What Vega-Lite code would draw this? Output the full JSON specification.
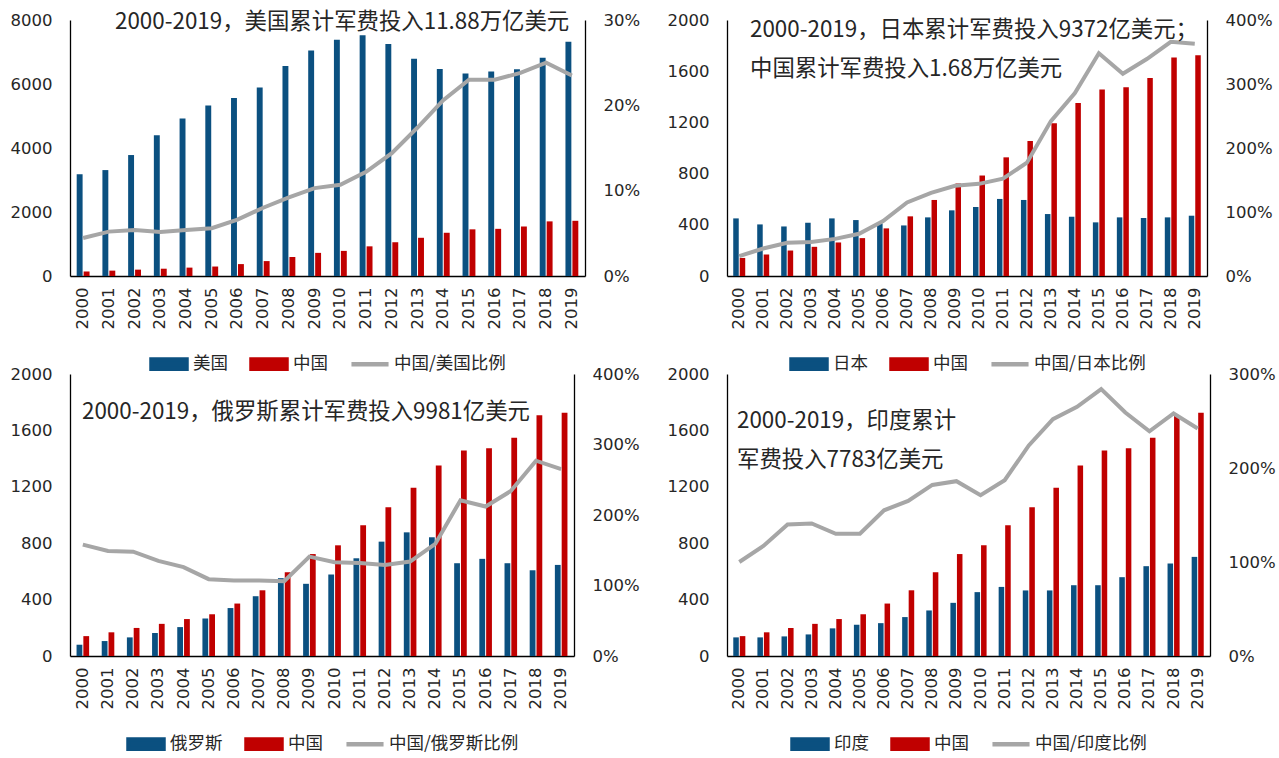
{
  "$schema": "https://vega.github.io/schema/vega-lite/v6.json",
  "background": "white",
  "padding": {"left": 10, "top": 10, "right": 5, "bottom": 5},
  "config": {
    "font": "Noto Sans CJK SC",
    "view": {"stroke": null},
    "axis": {"grid": false, "ticks": false, "domainColor": "#000", "labelColor": "#262626", "labelFontSize": 16.5, "labelFont": "DejaVu Sans"},
    "axisX": {"labelAngle": -90, "labelPadding": 11, "domainWidth": 1.6},
    "axisY": {"labelPadding": 18, "domainWidth": 1.3},
    "legend": {
      "orient": "bottom", "direction": "horizontal", "offset": 15,
      "labelFontSize": 17.5, "labelColor": "#262626", "symbolSize": 1225, "labelOffset": 4, "columnPadding": 14,
      "layout": {"bottom": {"anchor": "middle"}}
    },
    "title": {"fontSize": 22.4, "fontWeight": "normal", "color": "#262626", "anchor": "start", "lineHeight": 38.5, "frame": "group"}
  },
  "datasets": {
    "us": [
      {"year": "2000", "美国": 3180, "中国": 141, "比例": 0.0445},
      {"year": "2001", "美国": 3310, "中国": 168, "比例": 0.052},
      {"year": "2002", "美国": 3780, "中国": 199, "比例": 0.054},
      {"year": "2003", "美国": 4400, "中国": 228, "比例": 0.0515},
      {"year": "2004", "美国": 4920, "中国": 262, "比例": 0.054},
      {"year": "2005", "美国": 5330, "中国": 296, "比例": 0.056},
      {"year": "2006", "美国": 5560, "中国": 372, "比例": 0.066},
      {"year": "2007", "美国": 5890, "中国": 466, "比例": 0.080},
      {"year": "2008", "美国": 6560, "中国": 594, "比例": 0.092},
      {"year": "2009", "美国": 7050, "中国": 723, "比例": 0.103},
      {"year": "2010", "美国": 7380, "中国": 785, "比例": 0.107},
      {"year": "2011", "美国": 7520, "中国": 927, "比例": 0.122},
      {"year": "2012", "美国": 7250, "中国": 1055, "比例": 0.144},
      {"year": "2013", "美国": 6790, "中国": 1194, "比例": 0.174},
      {"year": "2014", "美国": 6470, "中国": 1351, "比例": 0.206},
      {"year": "2015", "美国": 6330, "中国": 1458, "比例": 0.230},
      {"year": "2016", "美国": 6390, "中国": 1474, "比例": 0.230},
      {"year": "2017", "美国": 6460, "中国": 1547, "比例": 0.238},
      {"year": "2018", "美国": 6820, "中国": 1707, "比例": 0.250},
      {"year": "2019", "美国": 7320, "中国": 1725, "比例": 0.235}
    ],
    "jp": [
      {"year": "2000", "日本": 450, "中国": 141, "比例": 0.31},
      {"year": "2001", "日本": 403, "中国": 168, "比例": 0.43},
      {"year": "2002", "日本": 387, "中国": 199, "比例": 0.52},
      {"year": "2003", "日本": 416, "中国": 228, "比例": 0.53},
      {"year": "2004", "日本": 450, "中国": 262, "比例": 0.58},
      {"year": "2005", "日本": 437, "中国": 296, "比例": 0.66},
      {"year": "2006", "日本": 411, "中国": 372, "比例": 0.86},
      {"year": "2007", "日本": 395, "中国": 466, "比例": 1.15},
      {"year": "2008", "日本": 458, "中国": 594, "比例": 1.30},
      {"year": "2009", "日本": 513, "中国": 723, "比例": 1.41},
      {"year": "2010", "日本": 539, "中国": 785, "比例": 1.44},
      {"year": "2011", "日本": 602, "中国": 927, "比例": 1.52},
      {"year": "2012", "日本": 594, "中国": 1055, "比例": 1.77},
      {"year": "2013", "日本": 484, "中国": 1194, "比例": 2.42},
      {"year": "2014", "日本": 463, "中国": 1351, "比例": 2.86},
      {"year": "2015", "日本": 419, "中国": 1458, "比例": 3.48},
      {"year": "2016", "日本": 458, "中国": 1474, "比例": 3.16},
      {"year": "2017", "日本": 453, "中国": 1547, "比例": 3.39},
      {"year": "2018", "日本": 458, "中国": 1707, "比例": 3.66},
      {"year": "2019", "日本": 471, "中国": 1725, "比例": 3.63}
    ],
    "ru": [
      {"year": "2000", "俄罗斯": 80, "中国": 141, "比例": 1.58},
      {"year": "2001", "俄罗斯": 106, "中国": 168, "比例": 1.49},
      {"year": "2002", "俄罗斯": 132, "中国": 199, "比例": 1.48},
      {"year": "2003", "俄罗斯": 163, "中国": 228, "比例": 1.35},
      {"year": "2004", "俄罗斯": 205, "中国": 262, "比例": 1.26},
      {"year": "2005", "俄罗斯": 266, "中国": 296, "比例": 1.09},
      {"year": "2006", "俄罗斯": 340, "中国": 372, "比例": 1.07},
      {"year": "2007", "俄罗斯": 424, "中国": 466, "比例": 1.07},
      {"year": "2008", "俄罗斯": 552, "中国": 594, "比例": 1.06},
      {"year": "2009", "俄罗斯": 512, "中国": 723, "比例": 1.41},
      {"year": "2010", "俄罗斯": 578, "中国": 785, "比例": 1.33},
      {"year": "2011", "俄罗斯": 693, "中国": 927, "比例": 1.32},
      {"year": "2012", "俄罗斯": 811, "中国": 1055, "比例": 1.29},
      {"year": "2013", "俄罗斯": 877, "中国": 1194, "比例": 1.34},
      {"year": "2014", "俄罗斯": 842, "中国": 1351, "比例": 1.59},
      {"year": "2015", "俄罗斯": 658, "中国": 1458, "比例": 2.21},
      {"year": "2016", "俄罗斯": 689, "中国": 1474, "比例": 2.12},
      {"year": "2017", "俄罗斯": 658, "中国": 1547, "比例": 2.34},
      {"year": "2018", "俄罗斯": 608, "中国": 1707, "比例": 2.77},
      {"year": "2019", "俄罗斯": 646, "中国": 1725, "比例": 2.65}
    ],
    "in": [
      {"year": "2000", "印度": 132, "中国": 141, "比例": 1.00},
      {"year": "2001", "印度": 132, "中国": 168, "比例": 1.17},
      {"year": "2002", "印度": 139, "中国": 199, "比例": 1.40},
      {"year": "2003", "印度": 153, "中国": 228, "比例": 1.41},
      {"year": "2004", "印度": 196, "中国": 262, "比例": 1.30},
      {"year": "2005", "印度": 222, "中国": 296, "比例": 1.30},
      {"year": "2006", "印度": 233, "中国": 372, "比例": 1.55},
      {"year": "2007", "印度": 276, "中国": 466, "比例": 1.65},
      {"year": "2008", "印度": 323, "中国": 594, "比例": 1.82},
      {"year": "2009", "印度": 377, "中国": 723, "比例": 1.86},
      {"year": "2010", "印度": 453, "中国": 785, "比例": 1.71},
      {"year": "2011", "印度": 490, "中国": 927, "比例": 1.87},
      {"year": "2012", "印度": 465, "中国": 1055, "比例": 2.24},
      {"year": "2013", "印度": 465, "中国": 1194, "比例": 2.52},
      {"year": "2014", "印度": 502, "中国": 1351, "比例": 2.65},
      {"year": "2015", "印度": 502, "中国": 1458, "比例": 2.84},
      {"year": "2016", "印度": 559, "中国": 1474, "比例": 2.59},
      {"year": "2017", "印度": 637, "中国": 1547, "比例": 2.39},
      {"year": "2018", "印度": 656, "中国": 1707, "比例": 2.58},
      {"year": "2019", "印度": 703, "中国": 1725, "比例": 2.42}
    ]
  },
  "columns": 2,
  "align": "each",
  "bounds": "flush",
  "spacing": {"row": 98, "column": 142},
  "resolve": {"scale": {"color": "independent", "x": "independent", "y": "independent", "xOffset": "independent"}, "legend": {"color": "independent"}},
  "concat": [
    {
      "width": 515, "height": 256,
      "data": {"name": "us"},
      "title": {"text": "2000-2019，美国累计军费投入11.88万亿美元", "dx": 45, "offset": -21},
      "layer": [
        {
          "transform": [{"fold": ["美国", "中国"], "as": ["series", "value"]}],
          "mark": {"type": "bar"},
          "encoding": {
            "x": {"field": "year", "type": "nominal", "scale": {"paddingInner": 0.5, "paddingOuter": 0.26}, "axis": {"title": null}},
            "xOffset": {"field": "series", "type": "nominal", "sort": ["美国", "中国"], "scale": {"paddingInner": 0.15}},
            "y": {"field": "value", "type": "quantitative", "scale": {"domain": [0, 8000]}, "axis": {"title": null, "format": "d", "values": [0, 2000, 4000, 6000, 8000]}},
            "color": {"field": "series", "type": "nominal", "scale": {"domain": ["美国", "中国", "中国/美国比例"], "range": ["#0B5080", "#C00000", "#A6A6A6"]},
              "legend": {"title": null, "encode": {"symbols": {"update": {
                "shape": [{"test": "indexof(datum.value, '比例') >= 0", "value": "M-1.06,0H1.06M-1,-0.266M-1,0.266"}, {"value": "M-1,-0.266H1V0.266H-1Z"}],
                "fill": [{"test": "datum.value === '中国'", "value": "#C00000"}, {"test": "indexof(datum.value, '比例') >= 0", "value": "transparent"}, {"value": "#0B5080"}],
                "stroke": [{"test": "indexof(datum.value, '比例') >= 0", "value": "#A6A6A6"}, {"value": "transparent"}],
                "strokeWidth": {"value": 4.5}, "opacity": {"value": 1}}}}}}
          }
        },
        {
          "mark": {"type": "line", "strokeWidth": 4},
          "encoding": {
            "x": {"field": "year", "type": "nominal", "axis": {"title": null}},
            "y": {"field": "比例", "type": "quantitative", "scale": {"domain": [0, 0.3]}, "axis": {"title": null, "orient": "right", "format": ".0%", "values": [0, 0.1, 0.2, 0.3]}},
            "color": {"datum": "中国/美国比例"}
          }
        }
      ],
      "resolve": {"scale": {"y": "independent"}}
    },
    {
      "width": 480, "height": 256,
      "data": {"name": "jp"},
      "title": {"text": ["2000-2019，日本累计军费投入9372亿美元；", "中国累计军费投入1.68万亿美元"], "dx": 23, "offset": -68},
      "layer": [
        {
          "transform": [{"fold": ["日本", "中国"], "as": ["series", "value"]}],
          "mark": {"type": "bar"},
          "encoding": {
            "x": {"field": "year", "type": "nominal", "scale": {"paddingInner": 0.5, "paddingOuter": 0.26}, "axis": {"title": null}},
            "xOffset": {"field": "series", "type": "nominal", "sort": ["日本", "中国"], "scale": {"paddingInner": 0.15}},
            "y": {"field": "value", "type": "quantitative", "scale": {"domain": [0, 2000]}, "axis": {"title": null, "format": "d", "values": [0, 400, 800, 1200, 1600, 2000]}},
            "color": {"field": "series", "type": "nominal", "scale": {"domain": ["日本", "中国", "中国/日本比例"], "range": ["#0B5080", "#C00000", "#A6A6A6"]},
              "legend": {"title": null, "encode": {"symbols": {"update": {
                "shape": [{"test": "indexof(datum.value, '比例') >= 0", "value": "M-1.06,0H1.06M-1,-0.266M-1,0.266"}, {"value": "M-1,-0.266H1V0.266H-1Z"}],
                "fill": [{"test": "datum.value === '中国'", "value": "#C00000"}, {"test": "indexof(datum.value, '比例') >= 0", "value": "transparent"}, {"value": "#0B5080"}],
                "stroke": [{"test": "indexof(datum.value, '比例') >= 0", "value": "#A6A6A6"}, {"value": "transparent"}],
                "strokeWidth": {"value": 4.5}, "opacity": {"value": 1}}}}}}
          }
        },
        {
          "mark": {"type": "line", "strokeWidth": 4},
          "encoding": {
            "x": {"field": "year", "type": "nominal", "axis": {"title": null}},
            "y": {"field": "比例", "type": "quantitative", "scale": {"domain": [0, 4]}, "axis": {"title": null, "orient": "right", "format": ".0%", "values": [0, 1, 2, 3, 4]}},
            "color": {"datum": "中国/日本比例"}
          }
        }
      ],
      "resolve": {"scale": {"y": "independent"}}
    },
    {
      "width": 504, "height": 282,
      "data": {"name": "ru"},
      "title": {"text": "2000-2019，俄罗斯累计军费投入9981亿美元", "dx": 12, "offset": -57},
      "layer": [
        {
          "transform": [{"fold": ["俄罗斯", "中国"], "as": ["series", "value"]}],
          "mark": {"type": "bar"},
          "encoding": {
            "x": {"field": "year", "type": "nominal", "scale": {"paddingInner": 0.5, "paddingOuter": 0.26}, "axis": {"title": null}},
            "xOffset": {"field": "series", "type": "nominal", "sort": ["俄罗斯", "中国"], "scale": {"paddingInner": 0.15}},
            "y": {"field": "value", "type": "quantitative", "scale": {"domain": [0, 2000]}, "axis": {"title": null, "format": "d", "values": [0, 400, 800, 1200, 1600, 2000]}},
            "color": {"field": "series", "type": "nominal", "scale": {"domain": ["俄罗斯", "中国", "中国/俄罗斯比例"], "range": ["#0B5080", "#C00000", "#A6A6A6"]},
              "legend": {"title": null, "encode": {"symbols": {"update": {
                "shape": [{"test": "indexof(datum.value, '比例') >= 0", "value": "M-1.06,0H1.06M-1,-0.266M-1,0.266"}, {"value": "M-1,-0.266H1V0.266H-1Z"}],
                "fill": [{"test": "datum.value === '中国'", "value": "#C00000"}, {"test": "indexof(datum.value, '比例') >= 0", "value": "transparent"}, {"value": "#0B5080"}],
                "stroke": [{"test": "indexof(datum.value, '比例') >= 0", "value": "#A6A6A6"}, {"value": "transparent"}],
                "strokeWidth": {"value": 4.5}, "opacity": {"value": 1}}}}}}
          }
        },
        {
          "mark": {"type": "line", "strokeWidth": 4},
          "encoding": {
            "x": {"field": "year", "type": "nominal", "axis": {"title": null}},
            "y": {"field": "比例", "type": "quantitative", "scale": {"domain": [0, 4]}, "axis": {"title": null, "orient": "right", "format": ".0%", "values": [0, 1, 2, 3, 4]}},
            "color": {"datum": "中国/俄罗斯比例"}
          }
        }
      ],
      "resolve": {"scale": {"y": "independent"}}
    },
    {
      "width": 483, "height": 282,
      "data": {"name": "in"},
      "title": {"text": ["2000-2019，印度累计", "军费投入7783亿美元"], "dx": 10, "offset": -105},
      "layer": [
        {
          "transform": [{"fold": ["印度", "中国"], "as": ["series", "value"]}],
          "mark": {"type": "bar"},
          "encoding": {
            "x": {"field": "year", "type": "nominal", "scale": {"paddingInner": 0.5, "paddingOuter": 0.26}, "axis": {"title": null}},
            "xOffset": {"field": "series", "type": "nominal", "sort": ["印度", "中国"], "scale": {"paddingInner": 0.15}},
            "y": {"field": "value", "type": "quantitative", "scale": {"domain": [0, 2000]}, "axis": {"title": null, "format": "d", "values": [0, 400, 800, 1200, 1600, 2000]}},
            "color": {"field": "series", "type": "nominal", "scale": {"domain": ["印度", "中国", "中国/印度比例"], "range": ["#0B5080", "#C00000", "#A6A6A6"]},
              "legend": {"title": null, "encode": {"symbols": {"update": {
                "shape": [{"test": "indexof(datum.value, '比例') >= 0", "value": "M-1.06,0H1.06M-1,-0.266M-1,0.266"}, {"value": "M-1,-0.266H1V0.266H-1Z"}],
                "fill": [{"test": "datum.value === '中国'", "value": "#C00000"}, {"test": "indexof(datum.value, '比例') >= 0", "value": "transparent"}, {"value": "#0B5080"}],
                "stroke": [{"test": "indexof(datum.value, '比例') >= 0", "value": "#A6A6A6"}, {"value": "transparent"}],
                "strokeWidth": {"value": 4.5}, "opacity": {"value": 1}}}}}}
          }
        },
        {
          "mark": {"type": "line", "strokeWidth": 4},
          "encoding": {
            "x": {"field": "year", "type": "nominal", "axis": {"title": null}},
            "y": {"field": "比例", "type": "quantitative", "scale": {"domain": [0, 3]}, "axis": {"title": null, "orient": "right", "format": ".0%", "values": [0, 1, 2, 3]}},
            "color": {"datum": "中国/印度比例"}
          }
        }
      ],
      "resolve": {"scale": {"y": "independent"}}
    }
  ]
}
